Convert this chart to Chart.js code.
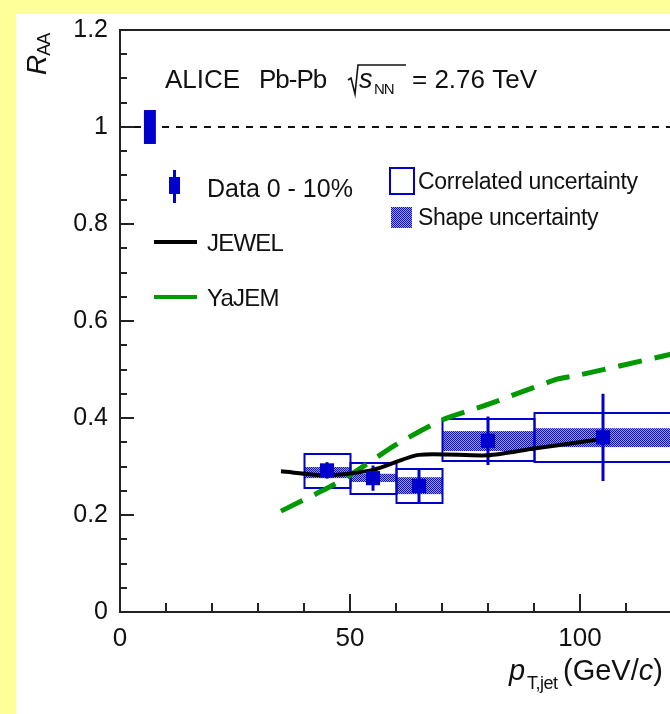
<!DOCTYPE html>
<html>
<head>
<meta charset="utf-8">
<script src="https://cdn.jsdelivr.net/npm/chart.js@4.4.1/dist/chart.umd.min.js"></script>
<style>
  html, body { margin: 0; padding: 0; overflow: hidden; background: #ffff99; }
  #wrap { position: absolute; left: 0; top: 0; width: 760px; height: 714px; }
  canvas { display: block; }
</style>
</head>
<body>
<div id="wrap"><canvas id="c" width="760" height="714"></canvas></div>
<script>
// ---- Data ----
const binLow     = [40, 50, 60, 70, 90];
const binHigh    = [50, 60, 70, 90, 120];
const dataX      = [45, 55, 65, 80, 105];
const dataY      = [0.292, 0.276, 0.260, 0.353, 0.360];
const statErr    = [0.017, 0.026, 0.035, 0.050, 0.090];
const corrLow    = [0.256, 0.243, 0.225, 0.311, 0.309];
const corrHigh   = [0.326, 0.307, 0.295, 0.398, 0.410];
const shapeLow   = [0.276, 0.268, 0.243, 0.332, 0.340];
const shapeHigh  = [0.299, 0.285, 0.278, 0.373, 0.379];
const globalUnc  = 0.035;
const jewelX     = [35, 45, 55, 65, 80, 90, 105];
const jewelY     = [0.290, 0.282, 0.293, 0.324, 0.323, 0.337, 0.357];
const yajemX     = [35, 45, 50, 60, 70, 80, 95, 100, 120];
const yajemY     = [0.208, 0.255, 0.282, 0.345, 0.396, 0.428, 0.480, 0.489, 0.532];
const xTickVals  = [0, 50, 100];
const yTickVals  = [0, 0.2, 0.4, 0.6, 0.8, 1, 1.2];

const BLUE = '#0000cc';
const FONT = '"Liberation Sans", Arial, Helvetica, sans-serif';

// hatch pattern for shape uncertainty
function makePattern(ctx) {
  const p = document.createElement('canvas');
  p.width = 2; p.height = 2;
  const g = p.getContext('2d');
  g.fillStyle = '#9a9aee'; g.fillRect(0, 0, 2, 2);
  g.fillStyle = '#1010c8'; g.fillRect(0, 0, 1, 1); g.fillRect(1, 1, 1, 1);
  return ctx.createPattern(p, 'repeat');
}

const decor = {
  id: 'decor',
  beforeDraw(chart) {
    const ctx = chart.ctx;
    ctx.save();
    ctx.fillStyle = '#ffff99';
    ctx.fillRect(0, 0, chart.width, chart.height);
    ctx.fillStyle = '#ffffff';
    ctx.fillRect(16, 14, chart.width - 16, chart.height - 14);
    ctx.restore();
  },
  beforeDatasetsDraw(chart) {
    const ctx = chart.ctx, xs = chart.scales.x, ys = chart.scales.y;
    const a = chart.chartArea;
    ctx.save();
    // dashed line at 1
    ctx.strokeStyle = '#111';
    ctx.lineWidth = 2;
    ctx.setLineDash([7, 7]);
    ctx.beginPath();
    ctx.moveTo(a.left, ys.getPixelForValue(1));
    ctx.lineTo(a.right, ys.getPixelForValue(1));
    ctx.stroke();
    ctx.setLineDash([]);
    // global uncertainty box
    ctx.fillStyle = BLUE;
    const gx0 = xs.getPixelForValue(5.2), gx1 = xs.getPixelForValue(7.8);
    const gy0 = ys.getPixelForValue(1 + globalUnc), gy1 = ys.getPixelForValue(1 - globalUnc);
    ctx.fillRect(gx0, gy0, gx1 - gx0, gy1 - gy0);
    // shape uncertainty (hatched)
    const pat = makePattern(ctx);
    ctx.fillStyle = pat;
    for (let i = 0; i < dataX.length; i++) {
      const x0 = xs.getPixelForValue(binLow[i]), x1 = xs.getPixelForValue(binHigh[i]);
      const y0 = ys.getPixelForValue(shapeHigh[i]), y1 = ys.getPixelForValue(shapeLow[i]);
      ctx.fillRect(x0, y0, x1 - x0, y1 - y0);
    }
    // correlated boxes
    ctx.strokeStyle = BLUE;
    ctx.lineWidth = 2;
    for (let i = 0; i < dataX.length; i++) {
      const x0 = xs.getPixelForValue(binLow[i]), x1 = xs.getPixelForValue(binHigh[i]);
      const y0 = ys.getPixelForValue(corrHigh[i]), y1 = ys.getPixelForValue(corrLow[i]);
      ctx.strokeRect(Math.round(x0) + 0.5, Math.round(y0), Math.round(x1 - x0), Math.round(y1 - y0));
    }
    // stat error bars
    ctx.lineWidth = 3;
    for (let i = 0; i < dataX.length; i++) {
      const x = xs.getPixelForValue(dataX[i]);
      ctx.beginPath();
      ctx.moveTo(x, ys.getPixelForValue(dataY[i] + statErr[i]));
      ctx.lineTo(x, ys.getPixelForValue(dataY[i] - statErr[i]));
      ctx.stroke();
    }
    ctx.restore();
  },
  afterDraw(chart) {
    const ctx = chart.ctx, xs = chart.scales.x, ys = chart.scales.y;
    const a = chart.chartArea;
    ctx.save();
    ctx.strokeStyle = '#222';
    ctx.lineWidth = 2;
    // top frame
    ctx.beginPath();
    ctx.moveTo(a.left - 1, a.top);
    ctx.lineTo(a.right, a.top);
    ctx.stroke();
    // inward ticks: y
    for (let v = 0; v <= 1.2001; v += 0.05) {
      const major = Math.abs(v / 0.2 - Math.round(v / 0.2)) < 1e-6;
      const py = Math.round(ys.getPixelForValue(v));
      ctx.beginPath();
      ctx.moveTo(a.left, py);
      ctx.lineTo(a.left + (major ? 14 : 7), py);
      ctx.stroke();
    }
    // inward ticks: x
    for (let v = 0; v <= 130; v += 10) {
      const major = v % 50 === 0;
      const px = Math.round(xs.getPixelForValue(v));
      ctx.beginPath();
      ctx.moveTo(px, a.bottom);
      ctx.lineTo(px, a.bottom - (major ? 18 : 9));
      ctx.stroke();
    }
    ctx.restore();

    // texts
    ctx.save();
    ctx.fillStyle = '#111';
    ctx.textBaseline = 'alphabetic';
    ctx.textAlign = 'left';
    // header
    ctx.font = '26px ' + FONT;
    ctx.fillText('ALICE', 165, 88);
    ctx.letterSpacing = '-1px';
    ctx.fillText('Pb-Pb', 259, 88);
    ctx.letterSpacing = '0px';
    // radical
    ctx.strokeStyle = '#111';
    ctx.lineWidth = 1.6;
    ctx.beginPath();
    ctx.moveTo(348, 80);
    ctx.lineTo(351, 78);
    ctx.lineTo(355, 94);
    ctx.lineTo(358, 65);
    ctx.lineTo(406, 65);
    ctx.stroke();
    ctx.font = 'italic 27px ' + FONT;
    ctx.fillText('s', 359, 88);
    ctx.font = '15px ' + FONT;
    ctx.letterSpacing = '-1px';
    ctx.fillText('NN', 374, 94);
    ctx.letterSpacing = '0px';
    ctx.font = '26px ' + FONT;
    ctx.fillText('= 2.76 TeV', 412, 88);

    // y title R_AA rotated
    ctx.save();
    ctx.translate(46, 75);
    ctx.rotate(-Math.PI / 2);
    ctx.font = 'italic 28px ' + FONT;
    ctx.fillText('R', 0, 0);
    const rw = ctx.measureText('R').width;
    ctx.font = '18px ' + FONT;
    ctx.letterSpacing = '-1px';
    ctx.fillText('AA', rw - 1, 4);
    ctx.letterSpacing = '0px';
    ctx.restore();

    // x title
    ctx.font = 'italic 29px ' + FONT;
    ctx.fillText('p', 509, 680);
    ctx.font = '18px ' + FONT;
    ctx.letterSpacing = '-0.5px';
    ctx.fillText('T,jet', 527, 689);
    ctx.letterSpacing = '0px';
    ctx.font = '29px ' + FONT;
    let xx = 563;
    ctx.fillText('(GeV/', xx, 680);
    xx += ctx.measureText('(GeV/').width;
    ctx.font = 'italic 29px ' + FONT;
    ctx.fillText('c', xx, 680);
    xx += ctx.measureText('c').width;
    ctx.font = '29px ' + FONT;
    ctx.fillText(')', xx, 680);

    // legend
    ctx.font = '25px ' + FONT;
    // data marker
    ctx.fillStyle = BLUE;
    ctx.fillRect(169, 177, 11, 17);
    ctx.strokeStyle = BLUE;
    ctx.lineWidth = 3;
    ctx.beginPath(); ctx.moveTo(174.5, 170); ctx.lineTo(174.5, 203); ctx.stroke();
    ctx.fillStyle = '#111';
    ctx.fillText('Data 0 - 10%', 207, 197);
    // JEWEL
    ctx.font = '24px ' + FONT;
    ctx.strokeStyle = '#000'; ctx.lineWidth = 4;
    ctx.beginPath(); ctx.moveTo(154, 242); ctx.lineTo(197, 242); ctx.stroke();
    ctx.letterSpacing = '-0.8px';
    ctx.fillText('JEWEL', 207, 251);
    // YaJEM
    ctx.strokeStyle = '#009900'; ctx.lineWidth = 4;
    ctx.beginPath(); ctx.moveTo(154, 297); ctx.lineTo(197, 297); ctx.stroke();
    ctx.fillText('YaJEM', 207, 306);
    // correlated
    ctx.strokeStyle = BLUE; ctx.lineWidth = 2;
    ctx.strokeRect(390, 168, 24, 26);
    ctx.font = '23px ' + FONT;
    ctx.letterSpacing = '-0.3px';
    ctx.fillText('Correlated uncertainty', 418, 189);
    ctx.fillStyle = makePattern(ctx);
    ctx.fillRect(391, 207, 21, 21);
    ctx.fillStyle = '#111';
    ctx.fillText('Shape uncertainty', 418, 225);
    ctx.restore();
  }
};

new Chart(document.getElementById('c'), {
  type: 'scatter',
  data: {
    datasets: [
      {
        label: 'Data 0 - 10%',
        data: dataX.map((x, i) => ({ x: x, y: dataY[i] })),
        pointStyle: 'rect',
        pointRadius: 10,
        backgroundColor: BLUE,
        borderColor: BLUE,
        borderWidth: 0,
        showLine: false
      },
      {
        label: 'JEWEL',
        data: jewelX.map((x, i) => ({ x: x, y: jewelY[i] })),
        showLine: true,
        borderColor: '#000',
        borderWidth: 4,
        pointRadius: 0,
        tension: 0.25,
        fill: false
      },
      {
        label: 'YaJEM',
        data: yajemX.map((x, i) => ({ x: x, y: yajemY[i] })),
        showLine: true,
        borderColor: '#009900',
        borderWidth: 5,
        borderDash: [24, 13],
        pointRadius: 0,
        tension: 0.2,
        fill: false
      }
    ]
  },
  options: {
    responsive: false,
    animation: false,
    events: [],
    layout: { padding: { top: 30, right: 42, left: 0, bottom: 0 } },
    plugins: { legend: { display: false }, tooltip: { enabled: false }, title: { display: false } },
    scales: {
      x: {
        type: 'linear',
        min: 0, max: 130,
        afterFit(s) { s.height = 102; s.paddingLeft = 0; s.paddingRight = 0; },
        afterBuildTicks(s) { s.ticks = xTickVals.map(v => ({ value: v })); },
        ticks: {
          font: { family: FONT, size: 26 },
          color: '#111',
          padding: 11,
          maxRotation: 0,
          autoSkip: false,
          callback: v => String(v)
        },
        grid: { display: true, drawOnChartArea: false, drawTicks: false },
        border: { display: true, color: '#222', width: 2 }
      },
      y: {
        type: 'linear',
        min: 0, max: 1.2,
        afterFit(s) { s.width = 120; s.paddingTop = 0; s.paddingBottom = 0; },
        afterBuildTicks(s) { s.ticks = yTickVals.map(v => ({ value: v })); },
        ticks: {
          font: { family: FONT, size: 25 },
          color: '#111',
          padding: 12,
          autoSkip: false,
          callback: v => (v === 0 ? '0' : v === 1 ? '1' : v.toFixed(1))
        },
        grid: { display: true, drawOnChartArea: false, drawTicks: false },
        border: { display: true, color: '#222', width: 2 }
      }
    }
  },
  plugins: [decor]
});
</script>
</body>
</html>
